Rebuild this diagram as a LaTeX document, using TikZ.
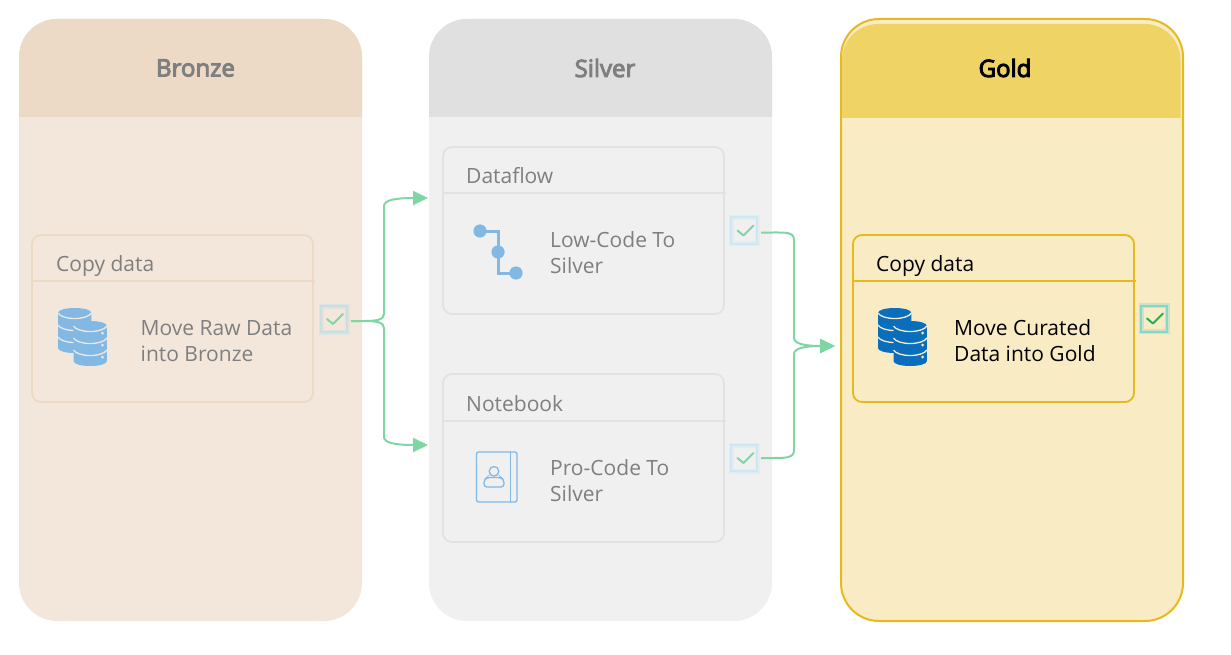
\documentclass[tikz,border=0pt]{standalone}
\usepackage{fontspec}
\setmainfont{Open Sans}
\newfontfamily\semib{Open Sans}[RawFeature={embolden=4}]
\usetikzlibrary{arrows.meta,calc}
\definecolor{bzbody}{HTML}{F3E7DC}
\definecolor{bzhead}{HTML}{ECD9C6}
\definecolor{svbody}{HTML}{F0F0F0}
\definecolor{svhead}{HTML}{E0E0E0}
\definecolor{svline}{HTML}{E2E2E2}
\definecolor{gdbody}{HTML}{F9ECC5}
\definecolor{gdhead}{HTML}{EFD365}
\definecolor{gdline}{HTML}{E6B91E}
\definecolor{txgray}{HTML}{7F7F7F}
\definecolor{flow}{HTML}{7FD6A4}
\definecolor{icon}{HTML}{81B8E4}
\definecolor{icondark}{HTML}{0A6EBD}
\definecolor{glowbz}{HTML}{C8E0E2}
\definecolor{glowsv}{HTML}{CBE9F5}
\definecolor{glowgd}{HTML}{86D6CB}
\definecolor{okgreen}{HTML}{1FAF55}
\tikzset{
  x=1pt,y=-1pt,
  panel/.style={rectangle,rounded corners=38pt,minimum width=343pt,minimum height=602pt,inner sep=0pt,outer sep=0pt,anchor=north west,line width=0pt},
  card/.style={rectangle,rounded corners=9pt,minimum width=281pt,minimum height=167pt,inner sep=0pt,outer sep=0pt,anchor=north west,line width=1.8pt,fill=none},
  paneltitle/.style={font=\fontsize{24}{28}\selectfont\semib,inner sep=0pt,anchor=center},
  cardtitle/.style={font=\fontsize{21}{26}\selectfont,inner sep=0pt,anchor=base west},
  cardtext/.style={font=\fontsize{21}{26}\selectfont,inner sep=0pt,anchor=west,align=left},
  chk/.style={rectangle,minimum width=26pt,minimum height=26pt,inner sep=0pt,outer sep=0pt,line width=2pt,
    preaction={draw=#1,draw opacity=.4,line width=5pt}, draw=#1},
  tick/.style={line width=2pt,line cap=round,line join=round},
  conn/.style={draw=flow,line width=2pt,rounded corners=0pt},
  connarrow/.style={conn,-{Triangle[length=15pt,width=14pt]}},
}
% database icon: #1 x, #2 y of top-left, #3 colour, #4 background
\newcommand{\dbcyl}[4]{%
  \begin{scope}[shift={(#1,#2)}]
    \fill[#3] (0,5) .. controls (0,1.8) and (8,0) .. (16.7,0) .. controls (25.4,0) and (33.4,1.8) .. (33.4,5)
       -- (33.4,40) .. controls (33.4,43.2) and (25.4,45) .. (16.7,45) .. controls (8,45) and (0,43.2) .. (0,40) -- cycle;
    \foreach \yy in {5,17,29}{
      \draw[#4,line width=1.3pt] (0,\yy) .. controls (2,{\yy+3.5}) and (9,{\yy+5.5}) .. (16.7,{\yy+5.5}) .. controls (24.4,{\yy+5.5}) and (31.4,{\yy+3.5}) .. (33.4,\yy);
    }
  \end{scope}}
\newcommand{\dbicon}[4]{%
  \dbcyl{#1}{#2}{#3}{#4}
  \dbcyl{#1+15.5}{#2+13}{#3}{#4}
  \foreach \yy in {26,38,50}{\fill[#4] ({#1+44.5},{#2+\yy-1}) circle (1.5pt);}
}
\begin{document}
\begin{tikzpicture}
\useasboundingbox (0,0) rectangle (1231,655);
% panels
\node[panel,fill=bzbody] (bronze) at (19,19) {};
\fill[bzhead] (19,117) [rounded corners=38pt] -- (19,19) -- (362,19) [sharp corners] -- (362,117) -- cycle;
\node[paneltitle,text=txgray] (bronzeT) at (195.5,68) {Bronze};
\node[panel,fill=svbody] (silver) at (429,19) {};
\fill[svhead] (429,117) [rounded corners=38pt] -- (429,19) -- (772,19) [sharp corners] -- (772,117) -- cycle;
\node[paneltitle,text=txgray] (silverT) at (605,68) {Silver};
\node[panel,fill=gdbody,draw=gdline,line width=2pt,minimum width=342pt] (gold) at (841,19) {};
\fill[gdhead] (842,118) [rounded corners=36pt] -- (842,24) -- (1180.5,24) [sharp corners] -- (1180.5,118) -- cycle;
\node[paneltitle] (goldT) at (1005,68) {Gold};
% bronze card
\node[card,draw=bzhead] (c1) at (32,235) {};
\draw[bzhead,line width=1.6pt] (32,281) -- (315,281);
\node[cardtitle,text=txgray] (c1T) at (56,271) {Copy data};
\dbicon{58}{308}{icon}{bzbody}
\node[cardtext,text=txgray] (c1B) at (140.5,341) {Move Raw Data\\into Bronze};
\node[chk=glowbz] (k1) at (334,319) {};
\draw[flow,tick] (327,319) -- (333,324) -- (343,314);
% dataflow card
\node[card,draw=svline] (c2) at (443,147) {};
\draw[svline,line width=1.6pt] (443,193) -- (726,193);
\node[cardtitle,text=txgray] (c2T) at (466,184) {Dataflow};
\draw[icon,line width=3pt] (480,231) -- (498,231) -- (498,273) -- (516,273);
\fill[icon] (480,231) circle (6.6pt) (498,252) circle (6.6pt) (516,273) circle (6.6pt);
\node[cardtext,text=txgray] (c2B) at (550,253) {Low-Code To\\Silver};
\node[chk=glowsv] (k2) at (744,230.5) {};
\draw[flow,tick] (737.5,230.5) -- (743.5,235.5) -- (753.5,225.5);
% notebook card
\node[card,draw=svline,minimum height=168pt] (c3) at (443,374) {};
\draw[svline,line width=1.6pt] (443,421) -- (726,421);
\node[cardtitle,text=txgray] (c3T) at (466,411) {Notebook};
\draw[icon,line width=1.3pt,rounded corners=2pt] (476.5,452) rectangle (517,502);
\draw[icon,line width=1.3pt] (510.5,452) -- (510.5,502);
\draw[icon,line width=1.3pt] (494,471.3) circle (4.8pt);
\draw[icon,line width=1.3pt,rounded corners=3pt] (484,487) -- (484,480) -- (487,477.5) -- (501,477.5) -- (504,480) -- (504,487) -- cycle;
\node[cardtext,text=txgray] (c3B) at (550,481) {Pro-Code To\\Silver};
\node[chk=glowsv] (k3) at (744,458) {};
\draw[flow,tick] (737.5,458) -- (743.5,463) -- (753.5,453);
% gold card
\node[card,draw=gdline] (c4) at (853,235) {};
\draw[gdline,line width=1.6pt] (853,281) -- (1136,281);
\node[cardtitle] (c4T) at (876,271) {Copy data};
\dbicon{878}{308}{icondark}{gdbody}
\node[cardtext] (c4B) at (954,341) {Move Curated\\Data into Gold};
\node[chk=glowgd] (k4) at (1154,318.5) {};
\draw[okgreen,tick] (1147,318.5) -- (1153,323.5) -- (1163,313.5);
% connectors
\coordinate (inDf) at (428,198);
\coordinate (inNb) at (428,445);
\coordinate (inGd) at (835,346);
\draw[connarrow] ([shift={(4,2)}]k1.east) -- ++(12,0) .. controls (376,321) and (384,320) .. (384,314) -- (384,206) .. controls (384,200) and (396,198) .. (inDf);
\draw[connarrow] ([shift={(4,2)}]k1.east) -- ++(12,0) .. controls (376,321) and (384,322) .. (384,328) -- (384,437) .. controls (384,443) and (396,445) .. (inNb);
\draw[connarrow] ([shift={(4,2)}]k2.east) -- ++(12,0) .. controls (786,232.5) and (794,232) .. (794,240) -- (794,338) .. controls (794,344) and (806,346) .. (inGd);
\draw[connarrow] ([shift={(4,0)}]k3.east) -- ++(12,0) .. controls (786,458) and (794,458) .. (794,450) -- (794,354) .. controls (794,348) and (806,346) .. (inGd);
\end{tikzpicture}
\end{document}
